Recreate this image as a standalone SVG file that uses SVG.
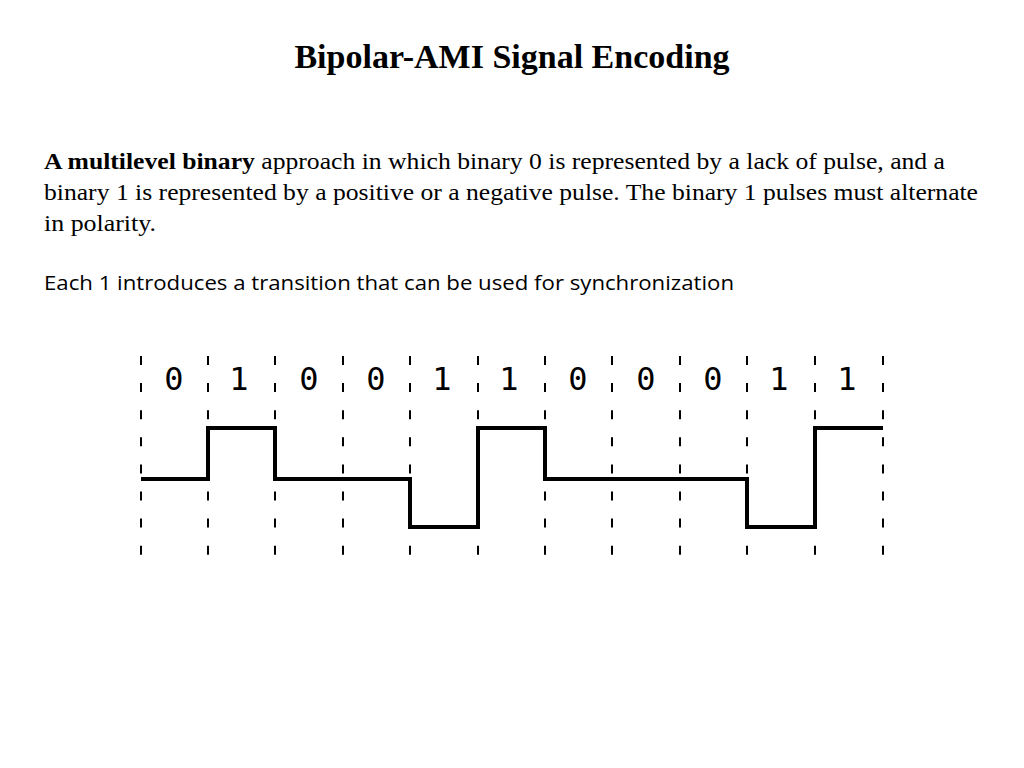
<svg xmlns="http://www.w3.org/2000/svg" width="1024" height="768" viewBox="0 0 1024 768">
<style>
.t{font-family:"Liberation Serif",serif;fill:#000}
.d{stroke:#000;stroke-width:2;stroke-dasharray:9 18.1}
.b{font-family:"DejaVu Sans Mono",monospace;font-size:32px;font-weight:200;text-anchor:middle;fill:#000}
</style>
<rect width="1024" height="768" fill="#fff"/>
<text class="t" x="512" y="68" font-size="34" font-weight="bold" text-anchor="middle">Bipolar-AMI Signal Encoding</text>
<text class="t" x="44" y="169" font-size="24" textLength="901" lengthAdjust="spacingAndGlyphs"><tspan font-weight="bold">A multilevel binary</tspan> approach in which binary 0 is represented by a lack of pulse, and a</text>
<text class="t" x="44" y="200" font-size="24" textLength="934" lengthAdjust="spacingAndGlyphs">binary 1 is represented by a positive or a negative pulse. The binary 1 pulses must alternate</text>
<text class="t" x="44" y="231" font-size="24" textLength="112" lengthAdjust="spacingAndGlyphs">in polarity.</text>
<text x="44" y="290" font-size="20" font-family="'Open Sans',sans-serif" textLength="690" lengthAdjust="spacingAndGlyphs">Each 1 introduces a transition that can be used for synchronization</text>
<g id="grid">
<line class="d" x1="141" y1="356" x2="141" y2="556"/>
<line class="d" x1="208" y1="356" x2="208" y2="556"/>
<line class="d" x1="275" y1="356" x2="275" y2="556"/>
<line class="d" x1="343" y1="356" x2="343" y2="556"/>
<line class="d" x1="410" y1="356" x2="410" y2="556"/>
<line class="d" x1="478" y1="356" x2="478" y2="556"/>
<line class="d" x1="545" y1="356" x2="545" y2="556"/>
<line class="d" x1="612" y1="356" x2="612" y2="556"/>
<line class="d" x1="680" y1="356" x2="680" y2="556"/>
<line class="d" x1="747" y1="356" x2="747" y2="556"/>
<line class="d" x1="815" y1="356" x2="815" y2="556"/>
<line class="d" x1="883" y1="356" x2="883" y2="556"/>
</g>
<g id="bits">
<text class="b" x="174" y="390">0</text>
<text class="b" x="239" y="390">1</text>
<text class="b" x="309" y="390">0</text>
<text class="b" x="376" y="390">0</text>
<text class="b" x="442" y="390">1</text>
<text class="b" x="509" y="390">1</text>
<text class="b" x="578" y="390">0</text>
<text class="b" x="646" y="390">0</text>
<text class="b" x="713" y="390">0</text>
<text class="b" x="779" y="390">1</text>
<text class="b" x="847" y="390">1</text>
</g>
<g id="signal">
<path d="M141 479H208V428H275V479H410V527H478V428H545V479H747V527H815V428H883" fill="none" stroke="#000" stroke-width="4"/>
</g>
</svg>
